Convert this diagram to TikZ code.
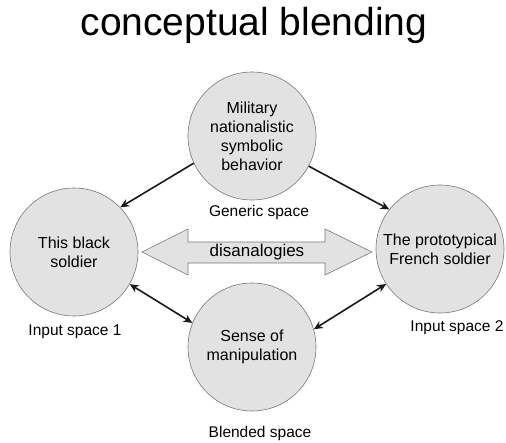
\documentclass[tikz,border=0pt]{standalone}
\usepackage{fontspec}
\setmainfont{Liberation Sans}
\usetikzlibrary{arrows.meta}
\definecolor{spacefill}{RGB}{226,226,226}
\definecolor{spaceedge}{RGB}{120,120,120}
\definecolor{linkcol}{RGB}{25,25,25}
\begin{document}
\begin{tikzpicture}[x=1pt,y=-1pt,
  space/.style={circle,draw=spaceedge,line width=0.6pt,fill=spacefill,
    minimum size=128pt,inner sep=0pt,align=center,
    font=\fontsize{16}{19}\selectfont},
  caption/.style={font=\fontsize{15.5}{18}\selectfont,inner sep=0pt},
  link/.style={draw=linkcol,line width=1.6pt,-{Stealth[length=9pt,width=8pt]}},
  duallink/.style={link,{Stealth[length=9pt,width=8pt]}-{Stealth[length=9pt,width=8pt]}}]
\useasboundingbox (0,0) rectangle (506,442);

% title
\node[font=\fontsize{39}{44}\selectfont,inner sep=0pt] (title) at (254,25) {conceptual blending};

% the four mental spaces
\node[space] (gen) at (252,136) {Military\\nationalistic\\symbolic\\behavior};
\node[space] (in1) at (74,252) {This black\\soldier};
\node[space] (in2) at (440,249) {The prototypical\\French soldier};
\node[space] (blend) at (252,347) {Sense of\\manipulation};

% captions
\node[caption] (genlab) at (259,212) {Generic space};
\node[caption] (in1lab) at (75,332) {Input space 1};
\node[caption] (in2lab) at (457,328) {Input space 2};
\node[caption] (blendlab) at (260,433) {Blended space};

% double block arrow between the inputs
\coordinate (dl) at (142,252);
\coordinate (dr) at (372,252);
\draw[draw=spaceedge,line width=0.6pt,fill=spacefill]
  (dl) -- (188,229) -- (188,242) -- (325,242) -- (325,229) -- (dr)
  -- (325,275) -- (325,263) -- (188,263) -- (188,275) -- cycle;
\node[font=\fontsize{17}{20}\selectfont,inner sep=0pt] (dis) at (257,252) {disanalogies};

% projections
\draw[link] (gen.205) -- (in1.44);
\draw[link] (gen.332) -- (in2.142);
\draw[duallink] (in1.330) -- (blend.158);
\draw[duallink] (blend.16) -- (in2.213);
\end{tikzpicture}
\end{document}
